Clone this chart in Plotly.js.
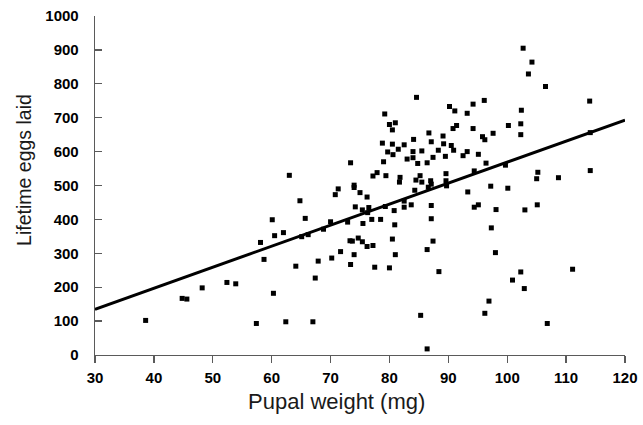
<!DOCTYPE html>
<html>
<head>
<meta charset="utf-8">
<script src="https://cdn.plot.ly/plotly-3.0.1.min.js"></script>
<style>
  html, body { margin: 0; padding: 0; background: #fff; }
  #chart { width: 643px; height: 425px; }
</style>
</head>
<body>
<div id="chart"></div>
<script>
// Pupal weight (mg) of each female and the number of eggs she laid over her lifetime
const pupalWeight = [
  38.6, 44.8, 45.6, 48.2, 52.4, 53.9, 57.4, 58.1, 58.7, 60.1, 60.5, 60.3,
  79.2, 80.0, 81.0, 80.5, 78.8, 80.5, 81.5, 79.7, 80.6, 79.0, 73.4, 77.9,
  77.2, 79.4, 81.8, 63.0, 74.0, 74.0, 71.3, 70.8, 75.0, 76.2, 64.8, 74.2,
  76.5, 75.4, 76.3, 79.3, 80.8, 65.7, 78.5, 77.0, 70.0, 72.9, 75.5, 80.9,
  68.8, 62.0, 65.1, 66.2, 73.3, 73.7, 74.7, 75.4, 76.2, 77.2, 80.5, 71.7,
  74.0, 81.0, 70.2, 67.9, 64.1, 73.4, 77.5, 80.0, 67.4, 62.4, 67.0,
  84.6, 90.2, 91.1, 94.2, 96.1, 93.2, 91.4, 90.8, 94.2, 86.7, 89.1, 84.1,
  87.1, 95.8, 96.2, 97.6, 82.5, 89.2, 90.5, 84.0, 85.5, 88.3, 90.9, 93.2,
  83.0, 84.0, 87.4, 89.5, 92.5, 95.1, 84.8, 86.4, 96.4, 81.7, 84.5, 85.2,
  85.5, 87.0, 87.1, 89.6, 89.6, 89.7, 86.6, 84.3, 94.4, 97.2, 93.3, 82.5,
  83.7, 82.5, 87.1, 94.4, 95.1, 98.1, 87.1, 97.3, 87.4, 86.4, 98.0, 88.4,
  96.9, 96.2, 85.3, 86.4,
  102.7, 104.2, 103.6, 106.5, 114.0, 102.4, 100.2, 102.3, 102.3, 114.1,
  99.7, 105.2, 105.0, 108.7, 114.1, 100.1, 105.1, 103.0, 111.1, 102.3,
  100.9, 102.9, 106.8
];
const eggsLaid = [
  102, 167, 165, 198, 214, 210, 93, 332, 282, 399, 352, 182,
  711, 680, 685, 664, 625, 622, 607, 599, 591, 570, 567, 538,
  528, 529, 524, 530, 501, 494, 490, 473, 479, 466, 455, 437,
  435, 428, 420, 438, 426, 403, 400, 400, 393, 392, 388, 384,
  371, 361, 349, 355, 337, 336, 345, 334, 320, 323, 342, 305,
  296, 296, 286, 277, 262, 267, 259, 257, 227, 98, 98,
  760, 733, 720, 740, 751, 713, 677, 668, 668, 655, 646, 636,
  629, 644, 635, 654, 620, 623, 618, 600, 602, 604, 604, 600,
  578, 582, 583, 586, 588, 592, 565, 567, 566, 510, 516, 529,
  510, 514, 504, 535, 514, 499, 495, 486, 543, 498, 481, 454,
  443, 436, 441, 436, 443, 429, 402, 375, 336, 311, 302, 246,
  159, 123, 117, 18,
  905, 864, 829, 792, 749, 722, 677, 682, 650, 656,
  560, 539, 520, 523, 544, 492, 443, 428, 253, 245,
  221, 196, 93
];

// Least-squares line through the scatter, given by its two ends
const fitX = [30, 120];
const fitY = [135, 693];

const xTicks = [30, 40, 50, 60, 70, 80, 90, 100, 110, 120];
const yTicks = [0, 100, 200, 300, 400, 500, 600, 700, 800, 900, 1000];

const tickFont = { family: 'Liberation Sans, Arial, sans-serif', size: 15, weight: 'bold', color: '#000' };
const titleFont = { family: 'Liberation Sans, Arial, sans-serif', size: 22, color: '#1a1a1a' };

const traces = [
  {
    type: 'scatter', mode: 'markers',
    x: pupalWeight, y: eggsLaid,
    marker: { symbol: 'square', size: 5, color: '#000' },
    hoverinfo: 'x+y', cliponaxis: false
  },
  {
    type: 'scatter', mode: 'lines',
    x: fitX, y: fitY,
    line: { color: '#000', width: 3 },
    hoverinfo: 'skip'
  }
];

const axisCommon = {
  showgrid: false, zeroline: false, showline: true,
  linecolor: '#5a5a5a', linewidth: 1.3,
  tickcolor: '#5a5a5a', tickwidth: 1.3, ticklen: 7,
  tickfont: tickFont, fixedrange: true
};

const layout = {
  width: 643, height: 425,
  margin: { l: 95, r: 18, t: 16, b: 70 },
  paper_bgcolor: '#fff', plot_bgcolor: '#fff',
  showlegend: false,
  xaxis: Object.assign({}, axisCommon, {
    range: [30, 120], tickvals: xTicks, ticktext: xTicks.map(String),
    ticks: 'outside', ticklabelstandoff: 2
  }),
  yaxis: Object.assign({}, axisCommon, {
    range: [0, 1000], tickvals: yTicks, ticktext: yTicks.map(String),
    ticks: 'inside', ticklabelstandoff: 12
  }),
  annotations: [
    {
      text: 'Pupal weight (mg)', xref: 'paper', yref: 'paper',
      x: 0.456, y: -0.095, xanchor: 'center', yanchor: 'top',
      showarrow: false, font: titleFont
    },
    {
      text: 'Lifetime eggs laid', xref: 'paper', yref: 'paper',
      x: -0.134, y: 0.546, xanchor: 'center', yanchor: 'middle',
      textangle: -90, showarrow: false, font: Object.assign({}, titleFont, { size: 19.5 })
    }
  ]
};

Plotly.newPlot('chart', traces, layout, { displayModeBar: false, staticPlot: true });
</script>
</body>
</html>
